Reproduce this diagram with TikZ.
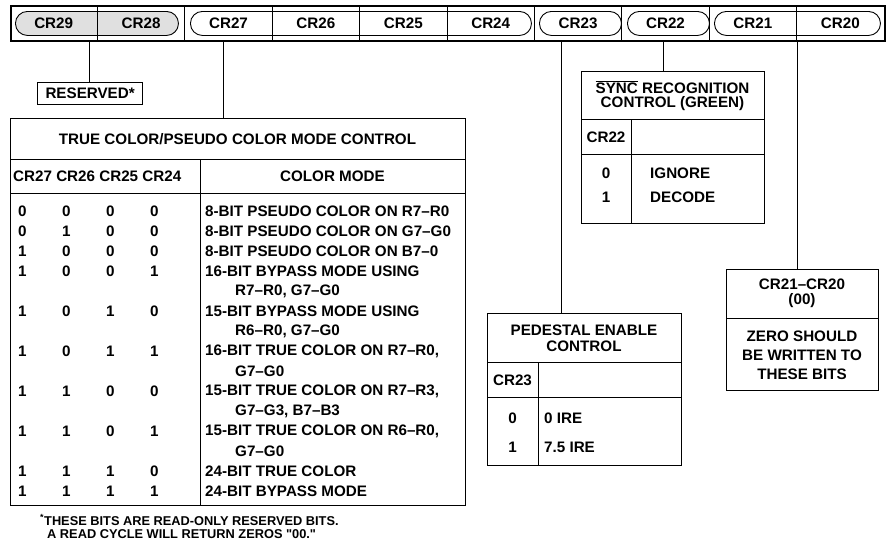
\documentclass[tikz,border=0pt]{standalone}
\usepackage{fontspec}
\setmainfont{Liberation Sans}
\newfontfamily\qfont{Liberation Sans}
\newcommand{\sq}{{\qfont\symbol{34}}}
\newcommand{\ovlsync}[1]{\vbox{\hrule height 0.7pt \kern 1.2pt \hbox{#1}}}
\begin{document}
\begin{tikzpicture}[x=1pt,y=-1pt,
  every node/.style={font=\fontsize{15.2}{17}\selectfont\bfseries, inner sep=0pt},
  frame/.style={draw, line width=1.8pt, anchor=north west},
  box/.style={draw, line width=1.3pt, anchor=north west},
  pill/.style={draw, line width=0.9pt, rounded corners=11.9pt, minimum height=24pt, anchor=north west},
  grid/.style={line width=0.9pt},
  conn/.style={line width=1pt},
  lbl/.style={anchor=center},
  txt/.style={anchor=west},
  foot/.style={anchor=west, font=\fontsize{12.8}{14}\selectfont\bfseries}]
\useasboundingbox (0,0) rectangle (888,550);

% ---------- register ----------
\node[pill, fill=black!12, minimum width=163pt] (p2928) at (15,11) {};
\node[pill, minimum width=341pt] (p2724) at (190,11) {};
\node[pill, minimum width=82pt] (p23) at (539,11) {};
\node[pill, minimum width=82pt] (p22) at (627,11) {};
\node[pill, minimum width=166pt] (p2120) at (714,11) {};
\node[frame, minimum width=874pt, minimum height=35pt] (reg) at (10,5) {};
\foreach \k in {1,...,9} {
  \draw[grid] ({10+87.4*\k},5) -- ({10+87.4*\k},40);
}
\foreach \k/\t in {0/CR29,1/CR28,2/CR27,3/CR26,4/CR25,5/CR24,6/CR23,7/CR22,8/CR21,9/CR20} {
  \node[lbl] (r\k) at ({10+87.4*\k+43.7},23.5) {\t};
}

% ---------- reserved ----------
\node[box, minimum width=105pt, minimum height=22pt] (resv) at (37,82) {};
\node[lbl] (resvt) at (resv.center) {RESERVED*};

% ---------- big table ----------
\node[box, minimum width=455pt, minimum height=387pt] (tbl) at (10,118) {};
\draw[grid] (10,159) -- (465,159);
\draw[grid] (10,193) -- (465,193);
\draw[grid] (200,159) -- (200,505);
\node[lbl] (tbltitle) at (237.5,139) {TRUE COLOR/PSEUDO COLOR MODE CONTROL};
\node[txt] (hdrbits) at (13,176.5) {CR27 CR26 CR25 CR24};
\node[lbl] (hdrmode) at (332.5,176.5) {COLOR MODE};

\foreach \i/\a/\b/\c/\d/\m in {
  0/0/0/0/0/8-BIT PSEUDO COLOR ON R7--R0,
  1/0/1/0/0/8-BIT PSEUDO COLOR ON G7--G0,
  2/1/0/0/0/8-BIT PSEUDO COLOR ON B7--0,
  3/1/0/0/1/16-BIT BYPASS MODE USING,
  5/1/0/1/0/15-BIT BYPASS MODE USING,
  7/1/0/1/1/{16-BIT TRUE COLOR ON R7--R0,},
  9/1/1/0/0/{15-BIT TRUE COLOR ON R7--R3,},
  11/1/1/0/1/{15-BIT TRUE COLOR ON R6--R0,},
  13/1/1/1/0/24-BIT TRUE COLOR,
  14/1/1/1/1/24-BIT BYPASS MODE} {
  \node[txt] (ba\i) at (18,{211+20*\i}) {\a};
  \node[txt] (bb\i) at (62,{211+20*\i}) {\b};
  \node[txt] (bc\i) at (106,{211+20*\i}) {\c};
  \node[txt] (bd\i) at (150,{211+20*\i}) {\d};
  \node[txt] (cm\i) at (205,{211+20*\i}) {\m};
}
\foreach \i/\m in {4/{R7--R0, G7--G0}, 6/{R6--R0, G7--G0}, 8/G7--G0, 10/{G7--G3, B7--B3}, 12/G7--G0} {
  \node[txt] (cc\i) at (235,{211+20*\i}) {\m};
}

\node[foot] (fn1) at (40,520) {\textsuperscript{*}THESE BITS ARE READ-ONLY RESERVED BITS.};
\node[foot] (fn2) at (47,534) {A READ CYCLE WILL RETURN ZEROS \sq00.\sq};

% ---------- sync box ----------
\node[box, minimum width=183pt, minimum height=152pt] (sync) at (581,71) {};
\draw[grid] (581,119) -- (764,119);
\draw[grid] (581,154) -- (764,154);
\draw[grid] (631,119) -- (631,223);
\node[lbl] (synct1) at (672.5,87) {\ovlsync{SYNC} RECOGNITION};
\node[lbl] (synct2) at (672.5,104) {CONTROL (GREEN)};
\node[lbl] (synch) at (606,137) {CR22};
\node[lbl] (sync0) at (606,173) {0};
\node[txt] (sync0t) at (650,173) {IGNORE};
\node[lbl] (sync1) at (606,197) {1};
\node[txt] (sync1t) at (650,197) {DECODE};

% ---------- pedestal box ----------
\node[box, minimum width=194pt, minimum height=152pt] (ped) at (487,313) {};
\draw[grid] (487,362) -- (681,362);
\draw[grid] (487,397) -- (681,397);
\draw[grid] (538,362) -- (538,465);
\node[lbl] (pedt1) at (584,330) {PEDESTAL ENABLE};
\node[lbl] (pedt2) at (584,346) {CONTROL};
\node[lbl] (pedh) at (512.5,380) {CR23};
\node[lbl] (ped0) at (512.5,418) {0};
\node[txt] (ped0t) at (544,418) {0 IRE};
\node[lbl] (ped1) at (512.5,447) {1};
\node[txt] (ped1t) at (544,447) {7.5 IRE};

% ---------- CR21-CR20 box ----------
\node[box, minimum width=152pt, minimum height=121pt] (zero) at (726,269) {};
\draw[grid] (726,318) -- (878,318);
\node[lbl] (zt1) at (802,284) {CR21--CR20};
\node[lbl] (zt2) at (802,301) {(00)};
\node[lbl] (zb1) at (802,336) {ZERO SHOULD};
\node[lbl] (zb2) at (802,355) {BE WRITTEN TO};
\node[lbl] (zb3) at (802,374) {THESE BITS};

% ---------- connectors ----------
\coordinate (c2928) at (89.5,40);
\coordinate (c27) at (223,40);
\coordinate (c23) at (561,40);
\coordinate (c22) at (663,40);
\coordinate (c21) at (797.6,40);
\draw[conn] (c2928) -- (c2928 |- resv.north);
\draw[conn] (c27) -- (c27 |- tbl.north);
\draw[conn] (c23) -- (c23 |- ped.north);
\draw[conn] (c22) -- (c22 |- sync.north);
\draw[conn] (c21) -- (c21 |- zero.north);
\end{tikzpicture}
\end{document}
